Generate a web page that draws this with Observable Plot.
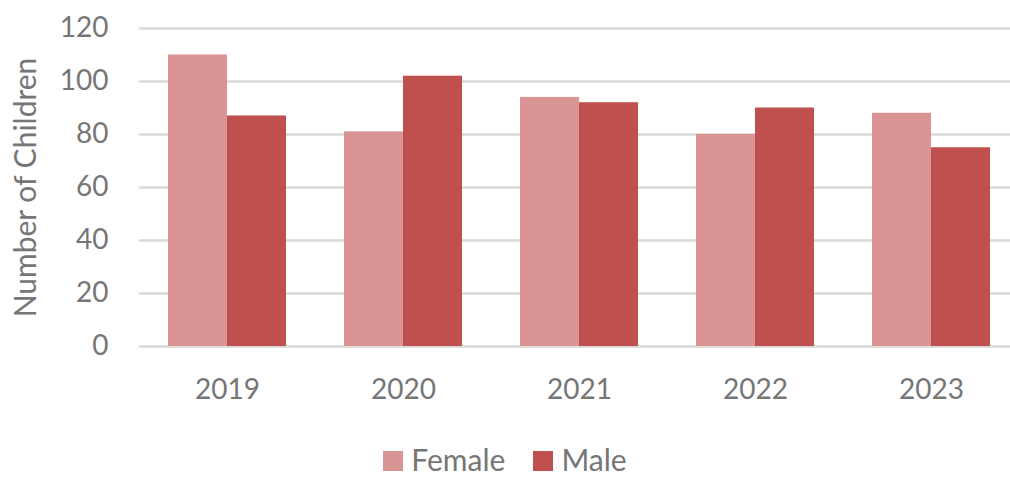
<!DOCTYPE html>
<html>
<head>
<meta charset="utf-8">
<script src="https://cdn.jsdelivr.net/npm/d3@7"></script>
<script src="https://cdn.jsdelivr.net/npm/@observablehq/plot@0.6"></script>
<style>
  html, body { margin: 0; padding: 0; background: white; overflow: hidden; }
  #chart { width: 1010px; height: 441px; overflow: hidden; }
  #legend { width: 1010px; height: 36px; display: flex; justify-content: center; align-items: center;
            font-family: Lato, sans-serif; font-size: 30px; color: #767676; }
  .item { display: flex; align-items: center; margin: 0 14px; }
  .sw { width: 20px; height: 20px; margin-right: 8px; margin-top: 4px; }
</style>
</head>
<body>
<div id="chart"></div>
<div id="legend"></div>
<script>
const years = ["2019", "2020", "2021", "2022", "2023"];
const female = [110, 81, 94, 80, 88];
const male = [87, 102, 92, 90, 75];
const series = ["Female", "Male"];
const colors = ["#D99594", "#C0504D"];
const yTicks = [0, 20, 40, 60, 80, 100, 120];
const yLabel = "Number of Children";

const femaleData = years.map((y, i) => ({year: y, sex: "Female", value: female[i]}));
const maleData = years.map((y, i) => ({year: y, sex: "Male", value: male[i]}));

const halfBand = 59;

const plot = Plot.plot({
  width: 1010,
  height: 441,
  marginLeft: 139,
  marginRight: -9,
  marginTop: 28,
  marginBottom: 95,
  style: {fontFamily: "Lato, sans-serif", fontSize: "28px", color: "#767676", background: "white"},
  x: {domain: years, paddingInner: 0.33, paddingOuter: 0.165, label: null},
  y: {domain: [0, 120], label: null},
  color: {domain: series, range: colors},
  marks: [
    Plot.ruleY(yTicks, {stroke: "#D9D9D9", strokeWidth: 2.5}),
    Plot.barY(femaleData, {x: "year", y: "value", fill: "sex", insetRight: halfBand}),
    Plot.barY(maleData, {x: "year", y: "value", fill: "sex", insetLeft: halfBand}),
    Plot.axisY(yTicks, {tickSize: 0, tickPadding: 31, label: null, fill: "#767676", fontSize: 28}),
    Plot.axisX({tickSize: 0, tickPadding: 33, label: null, fill: "#767676", fontSize: 28}),
    Plot.text([yLabel], {text: d => d, frameAnchor: "left", textAnchor: "middle", rotate: -90, dx: -113, fontSize: 30, fill: "#767676"})
  ]
});
document.getElementById("chart").appendChild(plot);

const legend = document.getElementById("legend");
series.forEach((s, i) => {
  const item = document.createElement("div");
  item.className = "item";
  const sw = document.createElement("span");
  sw.className = "sw";
  sw.style.background = colors[i];
  const t = document.createElement("span");
  t.textContent = s;
  item.appendChild(sw);
  item.appendChild(t);
  legend.appendChild(item);
});
</script>
</body>
</html>
